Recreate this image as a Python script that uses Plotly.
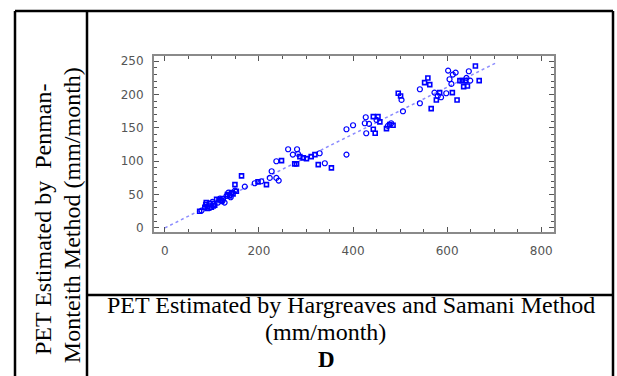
import plotly.graph_objects as go

W, H = 617, 376

# Data (Hargreaves-Samani vs Penman-Monteith PET, mm/month)
circ_x = [78, 92, 101, 113, 117, 127, 131, 135, 149, 170, 191, 205, 223, 227, 237, 242, 237,
          262, 272, 281, 283, 329, 340, 386, 386, 400, 425, 427, 428, 434, 450, 474, 481,
          503, 506, 542, 542, 573, 580, 587, 598, 602, 605, 609, 612, 618, 646, 649, 641,
          96, 104, 122, 140]
circ_y = [26, 33, 39, 38, 44, 38, 48, 53, 56, 62, 67, 70, 75, 85, 75, 71, 100,
          118, 110, 118, 111, 112, 97, 110, 148, 154, 157, 166, 142, 156, 162, 153, 157,
          192, 175, 208, 187, 203, 198, 196, 202, 236, 223, 216, 230, 233, 235, 221, 225,
          30, 36, 40, 46]
sq_x = [74, 85, 87, 88, 96, 99, 106, 110, 120, 124, 138, 142, 145, 149, 163, 198, 216,
        248, 276, 280, 287, 294, 301, 311, 319, 326, 354, 443, 443, 447, 453, 457, 471,
        478, 485, 496, 501, 552, 559, 563, 566, 577, 584, 611, 621, 627, 632, 635, 639,
        643, 660, 668, 90, 103, 115, 133, 152]
sq_y = [25, 31, 35, 38, 37, 31, 34, 43, 41, 44, 48, 53, 51, 65, 78, 69, 65,
        101, 96, 96, 107, 105, 104, 107, 110, 95, 90, 148, 167, 142, 167, 159, 149,
        155, 154, 202, 198, 218, 225, 215, 179, 192, 203, 203, 192, 221, 221, 212, 221,
        213, 243, 221, 29, 33, 42, 50, 55]
line_x = [0, 705]
line_y = [0, 248]

x_ticks = [0, 200, 400, 600, 800]
y_ticks = [0, 50, 100, 150, 200, 250]

blue = "#0000ff"

fig = go.Figure()
fig.add_trace(go.Scatter(x=line_x, y=line_y, mode="lines",
                         line=dict(color="#8c8cff", width=1.5, dash="dot"),
                         hoverinfo="skip", showlegend=False))
fig.add_trace(go.Scatter(x=circ_x, y=circ_y, mode="markers",
                         marker=dict(symbol="circle-open", size=5, color=blue,
                                     line=dict(width=1.2, color=blue)),
                         showlegend=False))
fig.add_trace(go.Scatter(x=sq_x, y=sq_y, mode="markers",
                         marker=dict(symbol="square-open", size=4, color=blue,
                                     line=dict(width=1.6, color=blue)),
                         showlegend=False))

def px(x):
    return x / W

def py(y):
    return 1 - y / H

axis_common = dict(
    showgrid=False, zeroline=False, showline=True, linecolor="#8a8a8a", linewidth=2,
    mirror="allticks", ticks="inside", tickcolor="#555", tickwidth=1,
    tickfont=dict(family="DejaVu Sans", size=12, color="#555"),
)

fig.update_xaxes(range=[-23, 827], domain=[px(154), px(554)],
                 tickvals=x_ticks, ticklen=5, ticklabelstandoff=7,
                 minor=dict(dtick=50, ticks="inside", ticklen=3, tickcolor="#555"),
                 **axis_common)
fig.update_yaxes(range=[-6, 257.5], domain=[py(233), py(55)],
                 tickvals=y_ticks, ticklen=5, ticklabelstandoff=6,
                 minor=dict(dtick=10, ticks="inside", ticklen=3, tickcolor="#555"),
                 **axis_common)

shapes = []
lw = 2.5
for (x0, y0, x1, y1) in [(15, 9, 613, 9), (15, 9, 15, 380), (613, 9, 613, 380),
                         (87, 9, 87, 380), (87, 297, 613, 297)]:
    shapes.append(dict(type="line", xref="paper", yref="paper",
                       x0=px(x0), y0=py(y0), x1=px(x1), y1=py(y1),
                       line=dict(color="black", width=lw)))

serif = dict(family="Liberation Serif", size=24, color="black")
ann = [
    dict(text="PET Estimated by Hargreaves and Samani Method", x=px(351), y=py(307)),
    dict(text="(mm/month)", x=px(325), y=py(334)),
    dict(text="<b>D</b>", x=px(326), y=py(362),
         font=dict(family="Liberation Serif", size=23, color="black")),
    dict(text="PET Estimated by  Penman-", x=px(43), y=py(220), textangle=-90),
    dict(text="Monteith Method (mm/month)", x=px(72), y=py(216), textangle=-90),
]
annotations = []
for a in ann:
    d = dict(xref="paper", yref="paper", xanchor="center", yanchor="middle",
             showarrow=False, font=serif, borderpad=0)
    d.update(a)
    annotations.append(d)

fig.update_layout(width=W, height=H, margin=dict(l=0, r=0, t=0, b=0),
                  paper_bgcolor="white", plot_bgcolor="white",
                  shapes=shapes, annotations=annotations, showlegend=False)

fig.write_html("out.html")
